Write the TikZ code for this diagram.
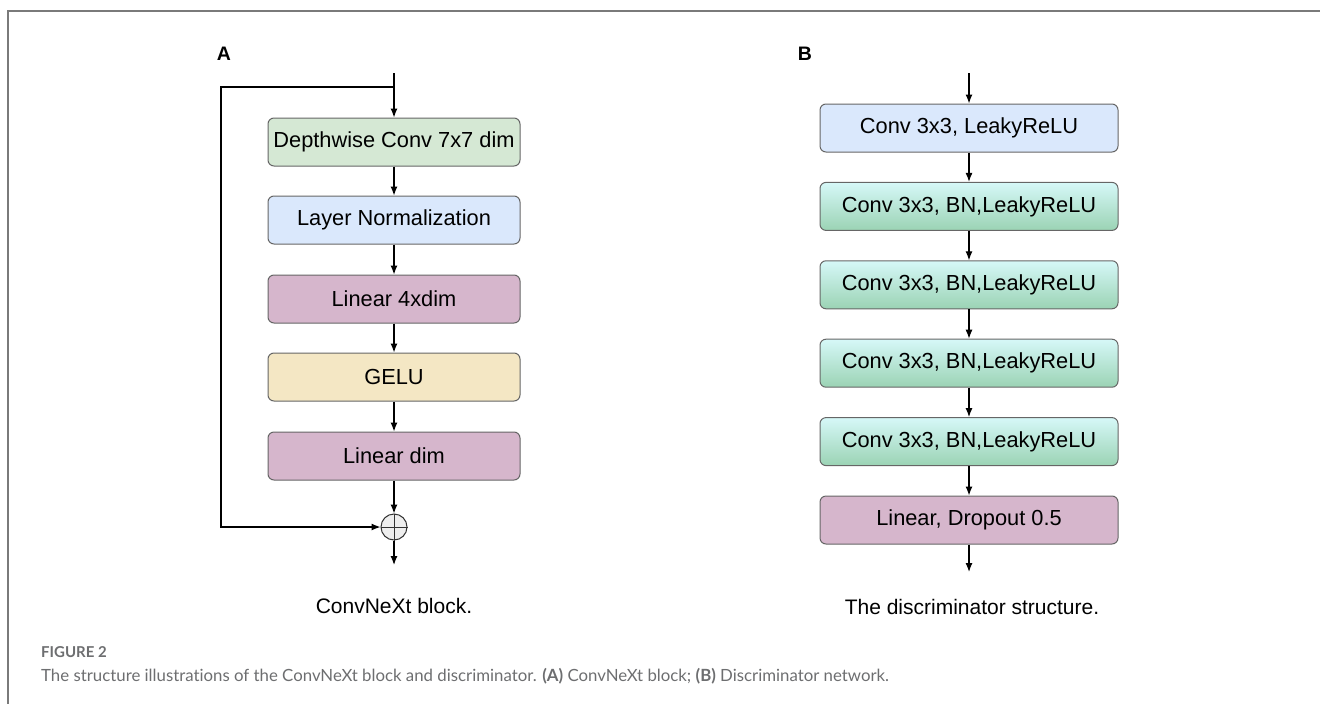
\documentclass[tikz,border=0pt]{standalone}
\usepackage{fontspec}
\setmainfont{Liberation Sans}
\newfontfamily\capfont[Ligatures=NoCommon]{Lato}
\usepackage{xcolor}
\usetikzlibrary{arrows.meta}

\definecolor{boxline}{HTML}{666666}
\definecolor{dwgreen}{HTML}{D5E8D4}
\definecolor{lnblue}{HTML}{DAE8FC}
\definecolor{linpink}{HTML}{D6B6CC}
\definecolor{gelusand}{HTML}{F4E7C4}
\definecolor{gtop}{HTML}{D6F8F8}
\definecolor{gbot}{HTML}{9BD3B4}
\definecolor{addgray}{HTML}{EEEEEE}
\definecolor{framegray}{HTML}{7A7A7A}
\definecolor{capgray}{HTML}{6D6E70}

\begin{document}
\begin{tikzpicture}[x=1pt,y=-1pt,
  blk/.style={draw=boxline, line width=1pt, rounded corners=6pt, minimum height=48pt,
    inner sep=0pt, font=\fontsize{21.8}{24}\selectfont},
  blkA/.style={blk, minimum width=252pt},
  blkB/.style={blk, minimum width=298pt},
  arr/.style={line width=1.2pt, -{Latex[length=9pt,width=7pt]}},
  panel/.style={font=\fontsize{19.5}{22}\selectfont\bfseries},
  sub/.style={font=\fontsize{21}{24}\selectfont}]
\useasboundingbox (0,0) rectangle (1320,704);

%% frame of the figure
\draw[framegray, line width=2pt] (8,704) -- (8,11) -- (1320,11);

%% A: ConvNeXt block
\node[panel] (labA) at (224,54) {A};
\coordinate (inA) at (394,73);
\coordinate (split) at (394,87);
\coordinate (skip) at (221,87);
\node[blkA, fill=dwgreen] (dw) at (394,142) {Depthwise Conv 7x7 dim};
\node[blkA, fill=lnblue] (ln) at (394,220) {Layer Normalization};
\node[blkA, fill=linpink] (lin4) at (394,299) {Linear 4xdim};
\node[blkA, fill=gelusand] (gelu) at (394,377) {GELU};
\node[blkA, fill=linpink] (lin1) at (394,456) {Linear dim};
\node[circle, draw=black!80, fill=addgray, line width=1pt, minimum size=26pt, inner sep=0pt] (add) at (394,527) {};
\draw[black!80, line width=1pt] (add.north) -- (add.south) (add.west) -- (add.east);
\coordinate (outA) at (394,565);
\draw[arr] (inA) -- (dw);
\draw[arr] (dw) -- (ln);
\draw[arr] (ln) -- (lin4);
\draw[arr] (lin4) -- (gelu);
\draw[arr] (gelu) -- (lin1);
\draw[arr] (lin1) -- (add);
\draw[arr] (add) -- (outA);
\draw[arr] (split) -- (skip) |- (add.west);
\node[sub] (capA) at (394,606) {ConvNeXt block.};

%% B: discriminator
\node[panel] (labB) at (805,54) {B};
\coordinate (inB) at (969,73);
\node[blkB, fill=lnblue] (d1) at (969,128) {Conv 3x3, LeakyReLU};
\foreach \i/\y in {2/206.4,3/284.8,4/363.2,5/441.6}
  \node[blkB, top color=gtop, bottom color=gbot] (d\i) at (969,\y) {Conv 3x3, BN,LeakyReLU};
\node[blkB, fill=linpink] (d6) at (969,520) {Linear, Dropout 0.5};
\coordinate (outB) at (969,572);
\draw[arr] (inB) -- (d1);
\foreach \a/\b in {1/2,2/3,3/4,4/5,5/6}
  \draw[arr] (d\a) -- (d\b);
\draw[arr] (d6) -- (outB);
\node[sub] (capB) at (972,607) {The discriminator structure.};

%% figure caption
\node[anchor=west, inner sep=0pt, text=capgray, font=\capfont\bfseries\fontsize{15}{17}\selectfont] (fig) at (41,652) {FIGURE 2};
\node[anchor=west, inner sep=0pt, text=capgray, font=\capfont\fontsize{16.8}{19}\selectfont] (figcap) at (41,676)
  {The structure illustrations of the ConvNeXt block and discriminator. {\bfseries(A)} ConvNeXt block; {\bfseries(B)} Discriminator network.};
\end{tikzpicture}
\end{document}
